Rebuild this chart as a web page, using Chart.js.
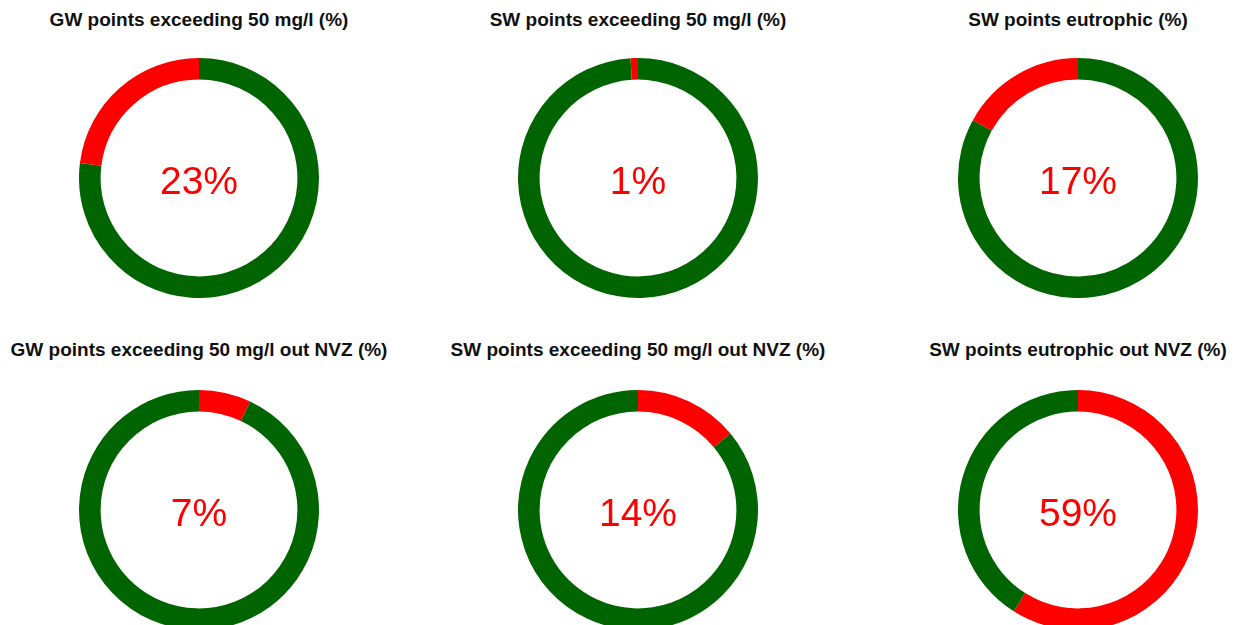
<!DOCTYPE html>
<html>
<head>
<meta charset="utf-8">
<script src="https://cdn.jsdelivr.net/npm/chart.js@4/dist/chart.umd.min.js"></script>
<style>
  body { margin: 0; width: 1241px; height: 625px; overflow: hidden; background: #fff; font-family: "Liberation Sans", Arial, sans-serif; }
  .title { position: absolute; width: 440px; text-align: center; font-weight: bold; font-size: 19px; color: #111; line-height: 22px; }
  .pct { position: absolute; width: 240px; text-align: center; font-size: 39px; color: #ff0000; line-height: 40px; }
  canvas { position: absolute; }
</style>
</head>
<body>
<script>
// data
const titles = [
  'GW points exceeding 50 mg/l (%)',
  'SW points exceeding 50 mg/l (%)',
  'SW points eutrophic (%)',
  'GW points exceeding 50 mg/l out NVZ (%)',
  'SW points exceeding 50 mg/l out NVZ (%)',
  'SW points eutrophic out NVZ (%)'
];
const exceeding = [23, 1, 17, 7, 14, 59];
const clockwise = [false, false, false, true, true, true];

const RED = '#ff0000';
const GREEN = '#006400';
const centersX = [199, 638, 1078];
const centersY = [178, 510];
const titleY = [9, 339];

titles.forEach((t, i) => {
  const cx = centersX[i % 3];
  const cy = centersY[Math.floor(i / 3)];

  const title = document.createElement('div');
  title.className = 'title';
  title.style.left = (cx - 220) + 'px';
  title.style.top = titleY[Math.floor(i / 3)] + 'px';
  title.textContent = t;
  document.body.appendChild(title);

  const canvas = document.createElement('canvas');
  canvas.width = 240;
  canvas.height = 240;
  canvas.style.left = (cx - 120) + 'px';
  canvas.style.top = (cy - 120) + 'px';
  document.body.appendChild(canvas);

  const pct = document.createElement('div');
  pct.className = 'pct';
  pct.style.left = (cx - 120) + 'px';
  pct.style.top = (cy - 17) + 'px';
  pct.textContent = exceeding[i] + '%';
  document.body.appendChild(pct);

  const v = exceeding[i];
  const values = clockwise[i] ? [v, 100 - v] : [100 - v, v];
  const colors = clockwise[i] ? [RED, GREEN] : [GREEN, RED];

  new Chart(canvas, {
    type: 'doughnut',
    data: {
      labels: clockwise[i] ? ['exceeding', 'other'] : ['other', 'exceeding'],
      datasets: [{
        data: values,
        backgroundColor: colors,
        borderWidth: 0
      }]
    },
    options: {
      responsive: false,
      animation: false,
      cutout: '82%',
      layout: { padding: 0 },
      plugins: {
        legend: { display: false },
        tooltip: { enabled: false }
      }
    }
  });
});
</script>
</body>
</html>
